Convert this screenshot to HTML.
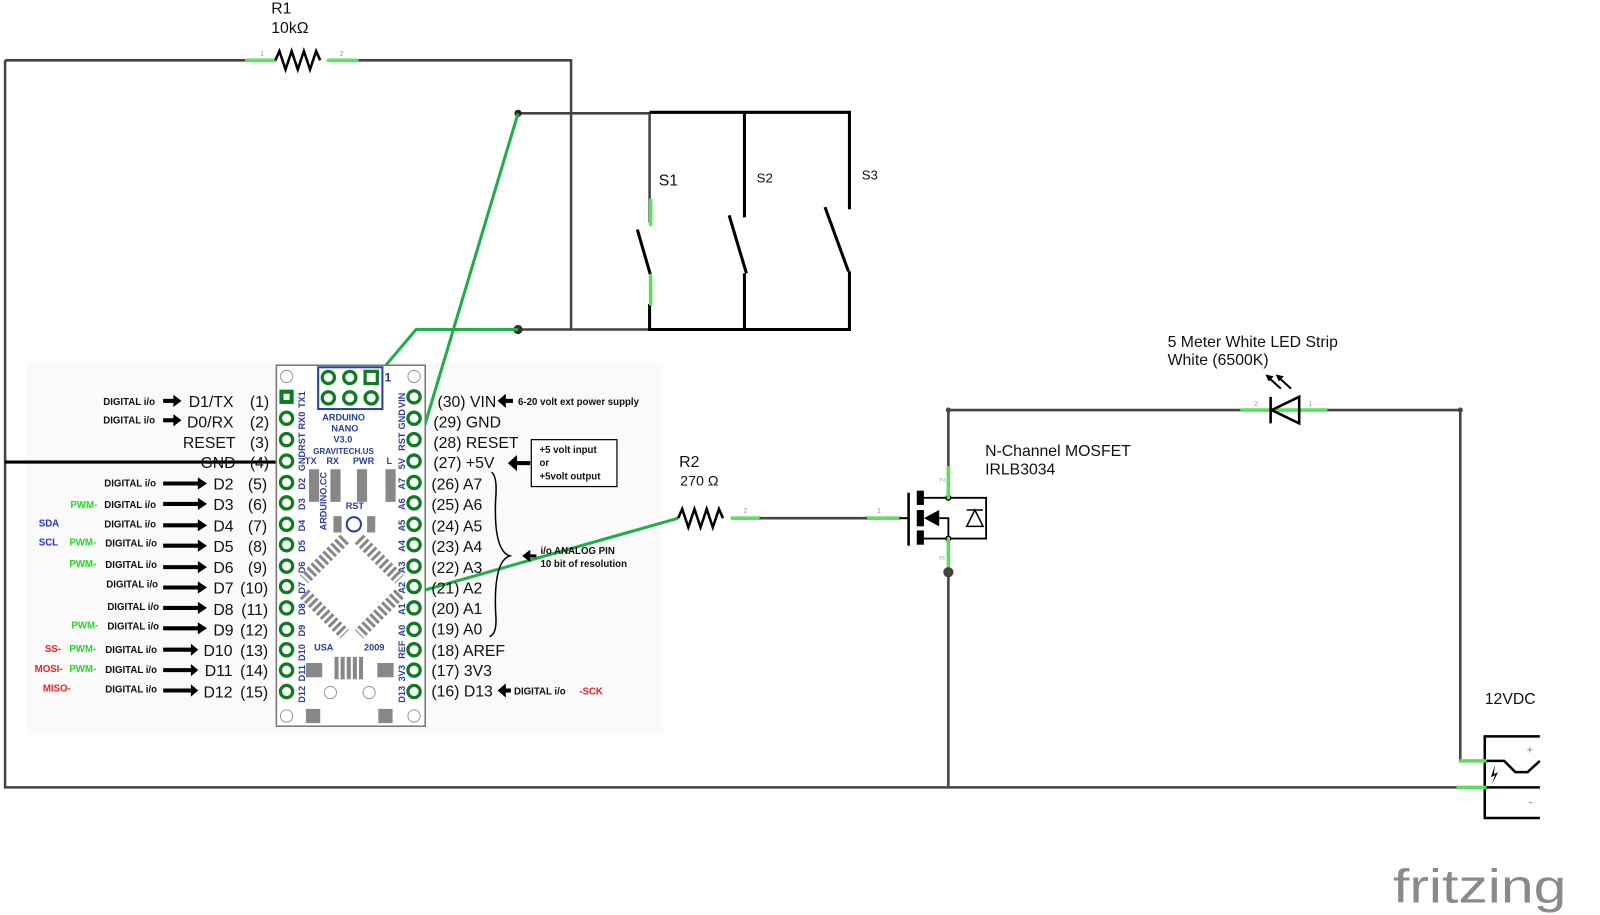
<!DOCTYPE html>
<html><head><meta charset="utf-8"><style>
html,body{margin:0;padding:0;background:#fff;width:1600px;height:915px;overflow:hidden}
svg{display:block}
text{font-family:"Liberation Sans",sans-serif}
.lab{font-size:15.5px;fill:#111}
.sm{font-size:9.5px;font-weight:bold;fill:#111}
.si{font-family:"Liberation Mono",monospace;font-size:9px;font-weight:bold;fill:#2a3f9e}
.w{stroke:#444;stroke-width:2.5;fill:none}
.b{stroke:#000;stroke-width:3;fill:none}
.g{stroke:#1fae4a;stroke-width:3;fill:none}
.lg{stroke:#5be05b;stroke-width:3.5;fill:none;stroke-linecap:round}
.pn{font-size:7px;fill:#999}
</style></head><body>
<svg width="1600" height="915" viewBox="0 0 1569 897" xmlns="http://www.w3.org/2000/svg">
<defs>
<circle id="p" r="6" fill="#fff" stroke="#0d7d1f" stroke-width="3.2"/>
<g id="ar"><line x1="0" y1="0" x2="36" y2="0" stroke="#000" stroke-width="4"/><polygon points="34,-6 43,0 34,6" fill="#000"/></g>
</defs>
<rect x="25" y="355" width="625" height="365" fill="#fafafa"/>

<!-- R1 top wire -->
<path class="w" d="M5,59 H242 M350,59 H560 V323 M5,59 V772 H1430"/>
<path class="lg" d="M242,59 H270 M322,59 H350"/>
<path d="M270,59 l4,-9 l6,18 l6,-18 l6,18 l6,-18 l6,18 l6,-18 l4,9" stroke="#000" stroke-width="2.5" fill="none"/>
<text x="266" y="13" class="lab">R1</text>
<text x="266" y="32" class="lab">10kΩ</text>
<text x="255" y="55" class="pn">1</text><text x="333" y="55" class="pn">2</text>

<!-- switches -->
<path class="w" d="M508,111 H637 V218 M508,323 H637"/>
<path class="b" d="M637,110 H833 V205 M730,110 V213 M637,298 V323 H833 V266 M730,323 V268 M732,268 L715,211 M832,266 L809,203 M638,270 L625,225"/>
<path class="lg" d="M638,196 V220 M638,270 V298"/>
<text x="646" y="182" class="lab">S1</text>
<text x="742" y="179" font-size="13" fill="#111">S2</text>
<text x="845" y="176" font-size="13" fill="#111">S3</text>
<circle cx="508" cy="111" r="3.5" fill="#222"/><circle cx="508" cy="323" r="4.5" fill="#333"/>

<!-- green wires -->
<path class="g" d="M508,111 L406,452 M508,323 H408 L281,473 M281,617 L665,508"/>
<path d="M5,453 H281" stroke="#000" stroke-width="3"/>

<!-- Arduino board -->
<rect x="271" y="358" width="146" height="354" fill="#fff" stroke="#777" stroke-width="1.5"/>
<rect x="312" y="360" width="63" height="41" fill="none" stroke="#2a3f9e" stroke-width="2"/>
<g fill="#fff" stroke="#0d7d1f" stroke-width="3.2">
<circle cx="322" cy="370" r="6"/><circle cx="343" cy="370" r="6"/><rect x="358" y="364" width="12" height="12"/>
<circle cx="322" cy="390" r="6"/><circle cx="343" cy="390" r="6"/><circle cx="364" cy="390" r="6"/>
</g>
<text x="377" y="374" font-size="12" fill="#2a3f9e" font-weight="bold">1</text>
<g stroke="#999" fill="none"><circle cx="281" cy="369" r="6"/><circle cx="406" cy="369" r="6"/><circle cx="281" cy="702" r="6"/><circle cx="406" cy="702" r="6"/><circle cx="324" cy="679" r="6"/><circle cx="362" cy="679" r="6"/></g>
<rect x="274" y="382" width="14" height="14" fill="#0d7d1f"/><rect x="278" y="386" width="6" height="6" fill="#fff"/>
<g>
<use href="#p" x="281" y="410"/><use href="#p" x="281" y="431"/><use href="#p" x="281" y="452"/><use href="#p" x="281" y="473"/><use href="#p" x="281" y="493"/><use href="#p" x="281" y="514"/><use href="#p" x="281" y="534"/><use href="#p" x="281" y="555"/><use href="#p" x="281" y="575"/><use href="#p" x="281" y="596"/><use href="#p" x="281" y="617"/><use href="#p" x="281" y="637"/><use href="#p" x="281" y="657"/><use href="#p" x="281" y="678"/>
<use href="#p" x="406" y="389"/><use href="#p" x="406" y="410"/><use href="#p" x="406" y="431"/><use href="#p" x="406" y="452"/><use href="#p" x="406" y="473"/><use href="#p" x="406" y="493"/><use href="#p" x="406" y="514"/><use href="#p" x="406" y="534"/><use href="#p" x="406" y="555"/><use href="#p" x="406" y="575"/><use href="#p" x="406" y="596"/><use href="#p" x="406" y="617"/><use href="#p" x="406" y="637"/><use href="#p" x="406" y="657"/><use href="#p" x="406" y="678"/>
</g>
<g class="si">
<text x="316" y="412">ARDUINO</text><text x="325" y="423">NANO</text><text x="327" y="434">V3.0</text><text x="307" y="445" font-size="8">GRAVITECH.US</text>
<text x="299" y="455">TX</text><text x="320" y="455">RX</text><text x="346" y="455">PWR</text><text x="379" y="455">L</text>
<text x="339" y="499">RST</text><text x="308" y="638">USA</text><text x="357" y="638">2009</text>
<text transform="translate(299,400) rotate(-90)">TX1</text>
<text transform="translate(299,421) rotate(-90)">RX0</text>
<text transform="translate(299,442) rotate(-90)">RST</text>
<text transform="translate(299,462) rotate(-90)">GND</text>
<text transform="translate(299,480) rotate(-90)">D2</text>
<text transform="translate(299,500) rotate(-90)">D3</text>
<text transform="translate(299,521) rotate(-90)">D4</text>
<text transform="translate(299,541) rotate(-90)">D5</text>
<text transform="translate(299,562) rotate(-90)">D6</text>
<text transform="translate(299,582) rotate(-90)">D7</text>
<text transform="translate(299,603) rotate(-90)">D8</text>
<text transform="translate(299,624) rotate(-90)">D9</text>
<text transform="translate(299,648) rotate(-90)">D10</text>
<text transform="translate(299,668) rotate(-90)">D11</text>
<text transform="translate(299,689) rotate(-90)">D12</text>
<text transform="translate(397,400) rotate(-90)">VIN</text>
<text transform="translate(397,421) rotate(-90)">GND</text>
<text transform="translate(397,442) rotate(-90)">RST</text>
<text transform="translate(397,460) rotate(-90)">5V</text>
<text transform="translate(397,480) rotate(-90)">A7</text>
<text transform="translate(397,500) rotate(-90)">A6</text>
<text transform="translate(397,521) rotate(-90)">A5</text>
<text transform="translate(397,541) rotate(-90)">A4</text>
<text transform="translate(397,562) rotate(-90)">A3</text>
<text transform="translate(397,582) rotate(-90)">A2</text>
<text transform="translate(397,603) rotate(-90)">A1</text>
<text transform="translate(397,624) rotate(-90)">A0</text>
<text transform="translate(397,646) rotate(-90)">REF</text>
<text transform="translate(397,668) rotate(-90)">3V3</text>
<text transform="translate(397,689) rotate(-90)">D13</text>
<text transform="translate(320,520) rotate(-90)">ARDUINO.CC</text>
</g>
<g fill="#888">
<rect x="303" y="460" width="10" height="32"/><rect x="324" y="460" width="10" height="32"/><rect x="350" y="460" width="10" height="32"/><rect x="378" y="460" width="10" height="32"/>
<rect x="327" y="506" width="8" height="16"/><rect x="360" y="506" width="8" height="16"/>
<rect x="300" y="650" width="16" height="14"/><rect x="370" y="650" width="16" height="14"/>
<rect x="300" y="695" width="14" height="14"/><rect x="371" y="695" width="14" height="14"/>
<rect x="328" y="644" width="4" height="22"/><rect x="334" y="644" width="4" height="22"/><rect x="340" y="644" width="4" height="22"/><rect x="346" y="644" width="4" height="22"/><rect x="352" y="644" width="4" height="22"/>
</g>
<circle cx="347" cy="514" r="7" fill="none" stroke="#2a3f9e" stroke-width="2"/>
<g transform="translate(345,575) rotate(45)" fill="#888">
<g transform="translate(0,-36)"><rect x="-30" y="-7" width="60" height="14" fill="url(#none)"/></g>
</g>
<g transform="translate(345,575) rotate(45)" stroke="#888" stroke-width="12" stroke-dasharray="3,2.5" fill="none">
<path d="M-28,-38 H28 M-28,38 H28 M-38,-28 V28 M38,-28 V28"/>
</g>

<!-- left labels -->
<g class="lab" text-anchor="end">
<text x="229" y="399">D1/TX</text><text x="264" y="399">(1)</text>
<text x="229" y="419">D0/RX</text><text x="264" y="419">(2)</text>
<text x="231" y="439">RESET</text><text x="264" y="439">(3)</text>
<text x="231" y="459">GND</text><text x="264" y="459">(4)</text>
<text x="229" y="480">D2</text><text x="262" y="480">(5)</text>
<text x="229" y="500">D3</text><text x="262" y="500">(6)</text>
<text x="229" y="521">D4</text><text x="262" y="521">(7)</text>
<text x="229" y="541">D5</text><text x="262" y="541">(8)</text>
<text x="229" y="562">D6</text><text x="262" y="562">(9)</text>
<text x="229" y="582">D7</text><text x="263" y="582">(10)</text>
<text x="229" y="603">D8</text><text x="263" y="603">(11)</text>
<text x="229" y="623">D9</text><text x="263" y="623">(12)</text>
<text x="228" y="643">D10</text><text x="263" y="643">(13)</text>
<text x="228" y="663">D11</text><text x="263" y="663">(14)</text>
<text x="228" y="684">D12</text><text x="263" y="684">(15)</text>
</g>
<g class="sm" text-anchor="end">
<text x="152" y="397">DIGITAL i/o</text><text x="152" y="415">DIGITAL i/o</text>
<text x="153" y="477">DIGITAL i/o</text><text x="153" y="498">DIGITAL i/o</text><text x="153" y="517">DIGITAL i/o</text>
<text x="154" y="536">DIGITAL i/o</text><text x="154" y="557">DIGITAL i/o</text><text x="155" y="576">DIGITAL i/o</text>
<text x="156" y="598">DIGITAL i/o</text><text x="156" y="617">DIGITAL i/o</text><text x="154" y="640">DIGITAL i/o</text>
<text x="154" y="660">DIGITAL i/o</text><text x="154" y="679">DIGITAL i/o</text>
</g>
<g font-size="9.5px" font-weight="bold">
<text x="69" y="498" fill="#22dd22">PWM-</text>
<text x="38" y="516" fill="#2233dd">SDA</text>
<text x="38" y="535" fill="#2233dd">SCL</text><text x="68" y="535" fill="#22dd22">PWM-</text>
<text x="68" y="556" fill="#22dd22">PWM-</text>
<text x="70" y="616" fill="#22dd22">PWM-</text>
<text x="44" y="639" fill="#ee2222">SS-</text><text x="68" y="639" fill="#22dd22">PWM-</text>
<text x="34" y="659" fill="#ee2222">MOSI-</text><text x="68" y="659" fill="#22dd22">PWM-</text>
<text x="42" y="678" fill="#ee2222">MISO-</text>
</g>
<g>
<path d="M160,393 H172" stroke="#000" stroke-width="4"/><polygon points="170,387 178,393 170,399" fill="#000"/>
<path d="M160,412 H172" stroke="#000" stroke-width="4"/><polygon points="170,406 178,412 170,418" fill="#000"/>
<use href="#ar" x="160" y="474"/><use href="#ar" x="160" y="494"/><use href="#ar" x="160" y="515"/><use href="#ar" x="160" y="535"/><use href="#ar" x="160" y="556"/><use href="#ar" x="160" y="576"/><use href="#ar" x="160" y="596"/><use href="#ar" x="160" y="616"/>
<g transform="translate(160,637) scale(0.8,1)"><use href="#ar"/></g>
<g transform="translate(160,657) scale(0.8,1)"><use href="#ar"/></g>
<g transform="translate(160,677) scale(0.8,1)"><use href="#ar"/></g>
</g>

<!-- right labels -->
<g class="lab">
<text x="429" y="399">(30) VIN</text><text x="425" y="419">(29) GND</text><text x="425" y="439">(28) RESET</text><text x="425" y="459">(27) +5V</text>
<text x="423" y="480">(26) A7</text><text x="423" y="500">(25) A6</text><text x="423" y="521">(24) A5</text><text x="423" y="541">(23) A4</text>
<text x="423" y="562">(22) A3</text><text x="423" y="582">(21) A2</text><text x="423" y="602">(20) A1</text><text x="423" y="622">(19) A0</text>
<text x="423" y="643">(18) AREF</text><text x="423" y="663">(17) 3V3</text><text x="423" y="683">(16) D13</text>
</g>
<polygon points="488,393 496,386 496,400" fill="#000"/><path d="M495,393 H503" stroke="#000" stroke-width="4"/>
<text x="508" y="397" class="sm" font-size="9">6-20 volt ext power supply</text>
<polygon points="498,454 507,446 507,462" fill="#000"/><path d="M506,454 H520" stroke="#000" stroke-width="4"/>
<rect x="521" y="431" width="84" height="46" fill="#fff" stroke="#000" stroke-width="1.2"/>
<text x="529" y="444" class="sm" font-size="9">+5 volt input</text><text x="529" y="457" class="sm" font-size="9">or</text><text x="529" y="470" class="sm" font-size="9">+5volt output</text>
<path d="M482,463 Q488,467 486,490 Q484,540 500,545 Q484,550 486,600 Q488,622 480,624" stroke="#000" stroke-width="1.5" fill="none"/>
<polygon points="512,545 520,539 520,551" fill="#000"/><path d="M518,545 H526" stroke="#000" stroke-width="3"/>
<text x="530" y="543" class="sm" font-size="9">i/o ANALOG PIN</text><text x="530" y="556" class="sm" font-size="9">10 bit of resolution</text>
<polygon points="488,677 496,670 496,684" fill="#000"/><path d="M495,677 H501" stroke="#000" stroke-width="4"/>
<text x="504" y="681" class="sm" font-size="9">DIGITAL i/o</text><text x="568" y="681" font-size="9.5" font-weight="bold" fill="#ee2222">-SCK</text>

<!-- R2 -->
<text x="666" y="458" class="lab">R2</text><text x="667" y="476" font-size="14" fill="#111">270 Ω</text>
<path d="M665,508 l4,-9 l6,18 l6,-18 l6,18 l6,-18 l6,18 l6,-18 l4,9" stroke="#000" stroke-width="2.5" fill="none"/>
<path class="lg" d="M718,508 H745 M850,508 H882"/>
<path class="w" d="M745,508 H850"/>
<text x="729" y="503" class="pn">2</text><text x="860" y="503" class="pn">1</text>

<!-- MOSFET -->
<path d="M891,483 V535" stroke="#000" stroke-width="2.5"/>
<path d="M882,508 H891" stroke="#000" stroke-width="2"/>
<rect x="899" y="481" width="7" height="14" fill="#000"/><rect x="899" y="500" width="7" height="16" fill="#000"/><rect x="899" y="520" width="7" height="14" fill="#000"/>
<polygon points="906,508 921,500 921,516" fill="#000"/>
<path d="M906,488 H967 V528 H906 M921,508 H930 V528" stroke="#000" stroke-width="1.8" fill="none"/>
<path d="M948,516 H964 L956,500 Z M948,500 H964" stroke="#000" stroke-width="1.5" fill="none"/>
<circle cx="930" cy="488" r="3" fill="#000"/><circle cx="930" cy="528" r="3" fill="#000"/>
<path class="lg" d="M930,457 V488 M930,528 V555"/>
<path class="w" d="M930,457 V402 H1218 M930,561 V772 M1300,402 H1432 V746"/>
<circle cx="930" cy="561" r="5" fill="#444"/>
<circle cx="930" cy="402" r="2.5" fill="#444"/><circle cx="1432" cy="402" r="2.5" fill="#444"/>
<text x="966" y="447" class="lab" font-size="16">N-Channel MOSFET</text>
<text x="966" y="465" class="lab" font-size="16">IRLB3034</text>
<text x="922" y="472" class="pn" transform="rotate(-90 924 470)">2</text>
<text x="922" y="549" class="pn" transform="rotate(-90 924 547)">3</text>

<!-- LED -->
<path class="lg" d="M1218,402 H1300"/>
<path d="M1246,389 V415 M1274,389 V415 L1247,402 Z" stroke="#000" stroke-width="2.5" fill="none"/>
<text x="1230" y="398" class="pn">2</text><text x="1283" y="398" class="pn">1</text>
<path d="M1256,381 L1244,370 M1266,381 L1254,370" stroke="#000" stroke-width="2"/>
<polygon points="1241,367 1249,369 1244,374" fill="#000"/><polygon points="1251,367 1259,369 1254,374" fill="#000"/>
<text x="1145" y="340" class="lab" font-size="16.5">5 Meter White LED Strip</text>
<text x="1145" y="358" class="lab" font-size="16.5">White (6500K)</text>

<!-- 12VDC jack -->
<text x="1456" y="690" class="lab" font-size="16">12VDC</text>
<path d="M1510,722 H1456 V802 H1510 M1456,746 H1475 L1486,757 H1498 L1510,746 M1456,772 H1510" stroke="#000" stroke-width="2.5" fill="none"/>
<path class="lg" d="M1432,746 H1456 M1430,772 H1456"/>
<polygon points="1466,750 1462,762 1466,760 1463,769 1469,757 1465,759" fill="#000"/>
<text x="1497" y="739" font-size="11" fill="#777">+</text><text x="1499" y="790" font-size="11" fill="#777">-</text>

<!-- fritzing logo -->
<text x="1366" y="885" font-size="46" fill="#8a8a8a" font-family="'DejaVu Sans','Liberation Sans',sans-serif" textLength="170" lengthAdjust="spacingAndGlyphs">fritzing</text>
</svg>
</body></html>
